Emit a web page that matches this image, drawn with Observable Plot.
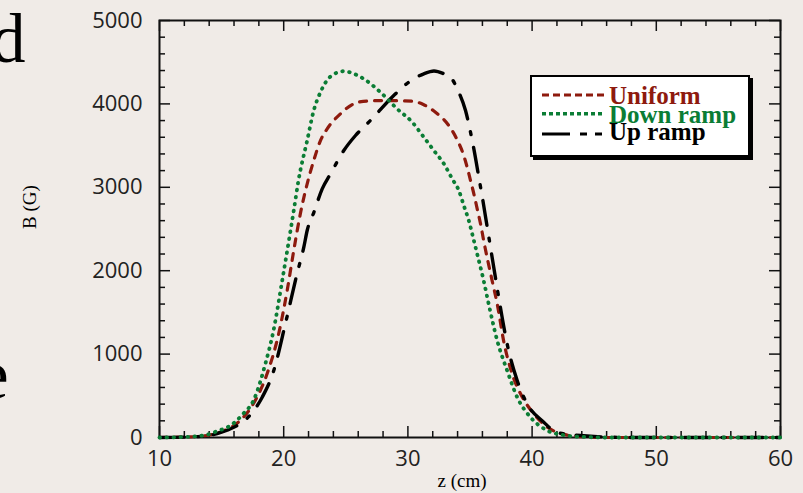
<!DOCTYPE html>
<html><head><meta charset="utf-8">
<script src="https://cdn.jsdelivr.net/npm/d3@7"></script>
<script src="https://cdn.jsdelivr.net/npm/@observablehq/plot@0.6"></script>
<style>
html,body{margin:0;padding:0;background:#f0ebe7;}
#wrap{position:relative;width:803px;height:493px;overflow:hidden;background:#f0ebe7;}
#over{position:absolute;left:0;top:0;pointer-events:none;}
</style></head><body>
<div id="wrap"></div>
<script>
// ---- data ----
const zUniform = [10, 12, 13, 14, 15, 16.5, 17.57, 18.67, 19.6, 20.28, 20.81, 21.35, 21.89, 22.42, 22.96, 23.5, 24.57, 25.64, 26.4, 28, 30.35, 31.28, 32.22, 33.29, 33.97, 34.45, 34.77, 35.04, 35.31, 35.58, 35.85, 36.1, 36.43, 36.78, 37.19, 37.72, 38.39, 39.07, 40.14, 41.22, 42.5, 44, 46, 60];
const bUniform = [0, 5, 12, 30, 70, 204, 408, 767, 1247, 1763, 2242, 2690, 3042, 3321, 3561, 3701, 3881, 4001, 4030, 4040, 4033, 3990, 3900, 3741, 3569, 3401, 3241, 3082, 2922, 2742, 2562, 2362, 2122, 1882, 1603, 1150, 764, 524, 284, 124, 40, 10, 0, 0];

const zDown = [10, 12, 13, 14, 14.35, 15, 15.72, 16.76, 17.57, 18.53, 19.18, 19.88, 20.55, 20.81, 21.19, 21.89, 22.42, 22.96, 23.77, 24.84, 25.5, 26.45, 27.79, 29.14, 30.35, 31.28, 32.09, 32.9, 33.57, 34.1, 34.5, 34.9, 35.31, 35.71, 36.1, 36.5, 37.19, 37.99, 38.8, 39.87, 41.22, 42.5, 44, 46, 60];
const bDown = [0, 5, 15, 40, 60, 95, 144, 288, 444, 887, 1283, 1882, 2482, 2722, 3082, 3561, 3921, 4140, 4328, 4392, 4370, 4300, 4140, 3940, 3781, 3601, 3441, 3281, 3101, 2962, 2782, 2602, 2362, 2122, 1882, 1603, 1163, 803, 483, 243, 84, 30, 8, 0, 0];

const zUp = [10, 12, 13, 14, 14.65, 15.5, 16.26, 17.6, 18.27, 19.2, 20.14, 21.08, 21.62, 21.89, 22.43, 23.1, 23.77, 24.84, 25.78, 26.98, 28.86, 30.07, 31.28, 32.1, 32.9, 33.43, 34.1, 34.64, 35.04, 35.31, 35.71, 36.06, 36.43, 36.78, 37.13, 37.4, 37.99, 38.8, 39.6, 40.94, 42, 43.9, 46, 48, 60];
const bUp = [0, 5, 10, 25, 48, 90, 144, 324, 483, 803, 1367, 1966, 2282, 2482, 2700, 2982, 3162, 3441, 3621, 3801, 4101, 4260, 4361, 4395, 4361, 4320, 4140, 3921, 3661, 3461, 3121, 2821, 2482, 2162, 1843, 1603, 1123, 683, 404, 184, 60, 24, 5, 0, 0];

const seriesNames = ["Uniform", "Down ramp", "Up ramp"];
const xMajor = [10, 20, 30, 40, 50, 60];
const xMinor = [12, 14, 16, 18, 22, 24, 26, 28, 32, 34, 36, 38, 42, 44, 46, 48, 52, 54, 56, 58];
const yMajor = [0, 1000, 2000, 3000, 4000, 5000];
const yMinor = [200, 400, 600, 800, 1200, 1400, 1600, 1800, 2200, 2400, 2600, 2800, 3200, 3400, 3600, 3800, 4200, 4400, 4600, 4800];
const xTitle = "z (cm)";
const yTitle = "B (G)";

// ---- styles ----
const RED = "#8e1a0e", GREEN = "#0b7d35", BLACK = "#000";
const BG = "#f0ebe7";
const W = 803, H = 493, ML = 159, MR = 23, MT = 20, MB = 56;
const PW = W - ML - MR, PH = H - MT - MB;

const toRows = (zs, bs) => zs.map((p, i) => ({pos: p, b: bs[i]}));
const fmt = d => String(d);

const plot = Plot.plot({
  width: W, height: H,
  marginLeft: ML, marginRight: MR, marginTop: MT, marginBottom: MB,
  style: {background: BG, fontFamily: "'Open Sans', sans-serif", fontSize: "22px", color: "#222"},
  x: {domain: [10, 60]},
  y: {domain: [0, 5000]},
  marks: [
    Plot.axisX(xMajor, {tickSize: 0, tickPadding: 13, label: null, fontSize: 22, tickFormat: fmt}),
    Plot.axisY(yMajor, {tickSize: 0, tickPadding: 17, label: null, fontSize: 22, tickFormat: fmt}),
    // inward ticks
    Plot.ruleX(xMajor, {insetTop: PH - 11, stroke: "#111", strokeWidth: 1.5}),
    Plot.ruleX(xMajor, {insetBottom: PH - 11, stroke: "#111", strokeWidth: 1.5}),
    Plot.ruleX(xMinor, {insetTop: PH - 6, stroke: "#111", strokeWidth: 1.5}),
    Plot.ruleX(xMinor, {insetBottom: PH - 6, stroke: "#111", strokeWidth: 1.5}),
    Plot.ruleY(yMajor, {insetRight: PW - 11, stroke: "#111", strokeWidth: 1.5}),
    Plot.ruleY(yMajor, {insetLeft: PW - 11, stroke: "#111", strokeWidth: 1.5}),
    Plot.ruleY(yMinor, {insetRight: PW - 6, stroke: "#111", strokeWidth: 1.5}),
    Plot.ruleY(yMinor, {insetLeft: PW - 6, stroke: "#111", strokeWidth: 1.5}),
    Plot.frame({stroke: "#111", strokeWidth: 2}),
    Plot.line(toRows(zUniform, bUniform), {x: "pos", y: "b", stroke: RED, strokeWidth: 3.2, strokeDasharray: "7,8", strokeLinecap: "round", curve: "monotone-x"}),
    Plot.line(toRows(zUp, bUp), {x: "pos", y: "b", stroke: BLACK, strokeWidth: 3.4, strokeDasharray: "25,13,3,13", strokeLinecap: "round", curve: "monotone-x"}),
    Plot.line(toRows(zDown, bDown), {x: "pos", y: "b", stroke: GREEN, strokeWidth: 3.8, strokeDasharray: "0.6,6.4", strokeLinecap: "round", curve: "monotone-x"}),
    Plot.text([xTitle], {text: d => d, frameAnchor: "bottom", dx: -8, dy: 43, lineAnchor: "middle", fontFamily: "'Liberation Serif', serif", fontSize: 19, fill: "#000"}),
    Plot.text([yTitle], {text: d => d, frameAnchor: "left", dx: -130, rotate: -90, lineAnchor: "middle", fontFamily: "'Liberation Serif', serif", fontSize: 19, fill: "#000"})
  ]
});
const wrap = document.getElementById("wrap");
wrap.appendChild(plot);

// ---- legend + stray letters overlay ----
const ns = "http://www.w3.org/2000/svg";
const over = document.createElementNS(ns, "svg");
over.setAttribute("id", "over");
over.setAttribute("width", W); over.setAttribute("height", H);
function el(tag, attrs, txt) {
  const e = document.createElementNS(ns, tag);
  for (const k in attrs) e.setAttribute(k, attrs[k]);
  if (txt != null) e.textContent = txt;
  over.appendChild(e);
  return e;
}
// stray letters from neighbouring slide text
el("text", {x: -9, y: 62, "font-family": "'Liberation Serif', serif", "font-size": 69, fill: "#000"}, "d");
el("text", {x: -22, y: 398, "font-family": "'Liberation Serif', serif", "font-size": 69, fill: "#000"}, "e");

el("rect", {x: 533, y: 78, width: 220, height: 82, fill: "#000"});
el("rect", {x: 531, y: 76, width: 218, height: 80, fill: "#fff", stroke: "#000", "stroke-width": 2});
const legColors = [RED, GREEN, BLACK];
const legDash = ["7,4", "4,3", "28,10,7,8,7,8"];
const legWidth = [3, 3.5, 3.2];
const lineY = [95, 113.7, 134];
const textY = [104, 122.7, 140];
seriesNames.forEach((n, i) => {
  el("line", {x1: 542, x2: 604, y1: lineY[i], y2: lineY[i], stroke: legColors[i], "stroke-width": legWidth[i], "stroke-dasharray": legDash[i]});
  el("text", {x: 609, y: textY[i], "font-family": "'Liberation Serif', serif", "font-weight": "bold", "font-size": 25, fill: legColors[i]}, n);
});
wrap.appendChild(over);
</script>
</body></html>
